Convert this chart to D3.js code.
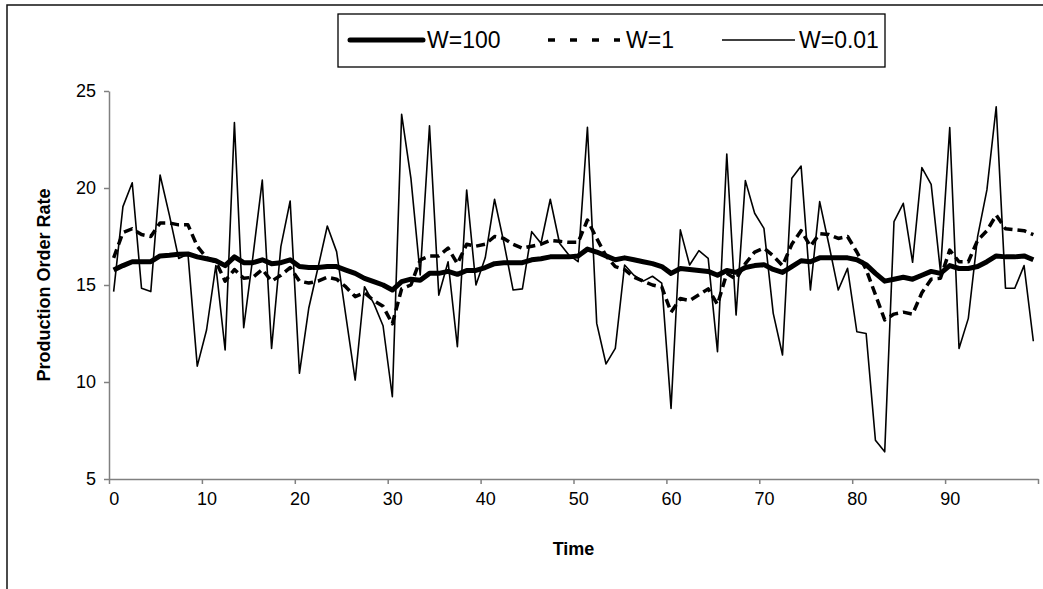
<!DOCTYPE html>
<html><head><meta charset="utf-8">
<script src="https://cdn.jsdelivr.net/npm/d3@7"></script>
<style>body{margin:0;background:#fff}svg{display:block}text{font-family:"Liberation Sans",Arial,sans-serif;fill:#000}</style>
</head><body><svg id="c" width="1043" height="589"></svg>
<script>
const time = [0,1,2,3,4,5,6,7,8,9,10,11,12,13,14,15,16,17,18,19,20,21,22,23,24,25,26,27,28,29,30,31,32,33,34,35,36,37,38,39,40,41,42,43,44,45,46,47,48,49,50,51,52,53,54,55,56,57,58,59,60,61,62,63,64,65,66,67,68,69,70,71,72,73,74,75,76,77,78,79,80,81,82,83,84,85,86,87,88,89,90,91,92,93,94,95,96,97,98,99];
const w100 = [15.77,16.0,16.2,16.2,16.2,16.5,16.53,16.58,16.6,16.45,16.35,16.25,16.0,16.45,16.15,16.15,16.3,16.1,16.15,16.3,15.95,15.9,15.9,15.95,15.95,15.77,15.6,15.34,15.17,15.0,14.74,15.17,15.3,15.25,15.6,15.6,15.7,15.55,15.75,15.75,15.9,16.1,16.15,16.15,16.15,16.3,16.35,16.45,16.45,16.45,16.5,16.85,16.7,16.5,16.3,16.4,16.3,16.2,16.1,15.95,15.6,15.85,15.8,15.75,15.7,15.5,15.75,15.65,15.9,16.0,16.05,15.8,15.65,15.95,16.25,16.2,16.4,16.4,16.4,16.4,16.3,16.05,15.6,15.2,15.3,15.4,15.3,15.5,15.7,15.6,16.0,15.85,15.85,15.95,16.2,16.5,16.45,16.45,16.5,16.3];
const w1 = [16.4,17.7,17.9,17.6,17.5,18.2,18.2,18.1,18.1,17.0,16.4,16.2,15.2,15.8,15.35,15.4,15.8,15.2,15.5,15.9,15.2,15.1,15.2,15.4,15.3,14.9,14.4,14.6,14.2,13.9,13.0,14.8,15.0,16.3,16.5,16.5,16.9,16.1,17.1,17.0,17.1,17.5,17.4,17.1,16.9,17.0,17.1,17.3,17.25,17.2,17.2,18.35,17.4,16.5,15.95,15.8,15.4,15.2,15.0,14.9,13.6,14.3,14.2,14.5,14.8,14.0,15.6,15.3,16.1,16.7,16.9,16.5,16.0,17.1,17.8,17.0,17.65,17.6,17.4,17.5,16.7,15.8,14.5,13.2,13.5,13.6,13.5,14.6,15.3,15.35,16.8,16.2,16.2,17.3,17.8,18.6,17.9,17.85,17.8,17.6];
const w001 = [14.66,19.04,20.27,14.83,14.66,20.67,18.6,16.37,16.6,10.82,12.68,16.0,11.65,23.38,12.8,16.5,20.41,11.73,16.98,19.33,10.45,13.8,15.9,18.04,16.72,13.4,10.1,14.91,14.05,12.9,9.24,23.8,20.5,15.52,23.21,14.48,16.2,11.82,19.9,15.0,16.4,19.42,17.2,14.74,14.8,17.75,17.15,19.42,17.15,16.55,16.2,23.13,13.02,10.93,11.73,16.03,15.5,15.2,15.45,15.1,8.64,17.84,16.03,16.77,16.37,11.56,21.75,13.45,20.38,18.7,17.92,13.54,11.39,20.5,21.13,14.74,19.3,17.06,14.74,15.86,12.59,12.5,7.0,6.4,18.27,19.21,16.17,21.05,20.19,15.69,23.11,11.73,13.28,17.49,19.9,24.19,14.83,14.83,16.0,12.1];
const seriesNames = ["W=100","W=1","W=0.01"];
const xTickLabels = [0,10,20,30,40,50,60,70,80,90];
const yTicks = [5,10,15,20,25];
const xTitle = "Time";
const yTitle = "Production Order Rate";

const svg = d3.select("#c");
const L = 109, R = 1038, T = 91, B = 479;
const x = d3.scaleLinear().domain([-0.5, 99.5]).range([L, R]);
const y = d3.scaleLinear().domain([5, 25]).range([B, T]);

svg.append("path").attr("d", "M7,589V5H1043").attr("fill","none").attr("stroke","#111").attr("stroke-width",1.5);

const axisColor = "#808080";
const gy = svg.append("g").attr("transform", `translate(${L},0)`)
  .call(d3.axisLeft(y).tickValues(yTicks).tickSize(5).tickSizeOuter(0).tickPadding(8));
const boundaries = xTickLabels.map(d => d - 0.5).concat([99.5]);
const gx = svg.append("g").attr("transform", `translate(0,${B})`)
  .call(d3.axisBottom(x).tickValues(boundaries).tickFormat("").tickSize(5).tickSizeOuter(0));
const gxl = svg.append("g").attr("transform", `translate(0,${B})`)
  .call(d3.axisBottom(x).tickValues(xTickLabels).tickSize(0).tickPadding(13));
gxl.select(".domain").remove();
[gy, gx].forEach(g => { g.select(".domain").attr("stroke", axisColor).attr("stroke-width",1.5); g.selectAll(".tick line").attr("stroke", axisColor).attr("stroke-width",1.5); });
svg.selectAll(".tick text").attr("font-size", 18).attr("font-family","Liberation Sans, Arial, sans-serif").attr("fill","#000");

svg.append("text").attr("x", (L+R)/2).attr("y", 555).attr("text-anchor","middle")
  .attr("font-size",18).attr("font-weight","bold").text(xTitle);
svg.append("text").attr("transform", `translate(50,${(T+B)/2}) rotate(-90)`).attr("text-anchor","middle")
  .attr("font-size",18).attr("font-weight","bold").text(yTitle);

const line = d3.line().x((d,i) => x(time[i])).y(d => y(d));
const styles = [
  {data: w100, w: 5, dash: null},
  {data: w1, w: 3.5, dash: "9,5"},
  {data: w001, w: 1.6, dash: null}
];
styles.slice().reverse().forEach(s => {
  svg.append("path").datum(s.data).attr("d", line).attr("fill","none").attr("stroke","#000")
    .attr("stroke-width", s.w).attr("stroke-linejoin","round").attr("stroke-dasharray", s.dash);
});

const lg = svg.append("g");
lg.append("rect").attr("x",338).attr("y",14).attr("width",547).attr("height",53).attr("fill","#fff").attr("stroke","#000").attr("stroke-width",1.3);
const items = [
  {x0:350, x1:423, tx:427},
  {x0:548, x1:620, tx:626},
  {x0:722, x1:795, tx:799}
];
items.forEach((it, k) => {
  const s = styles[k];
  lg.append("line").attr("x1",it.x0).attr("x2",it.x1).attr("y1",40).attr("y2",40)
    .attr("stroke","#000").attr("stroke-width", s.w).attr("stroke-linecap", k===0?"round":"butt").attr("stroke-dasharray", s.dash ? "7,15" : null);
  lg.append("text").attr("x", it.tx).attr("y", 48).attr("font-size", 23).text(seriesNames[k]);
});
</script></body></html>
